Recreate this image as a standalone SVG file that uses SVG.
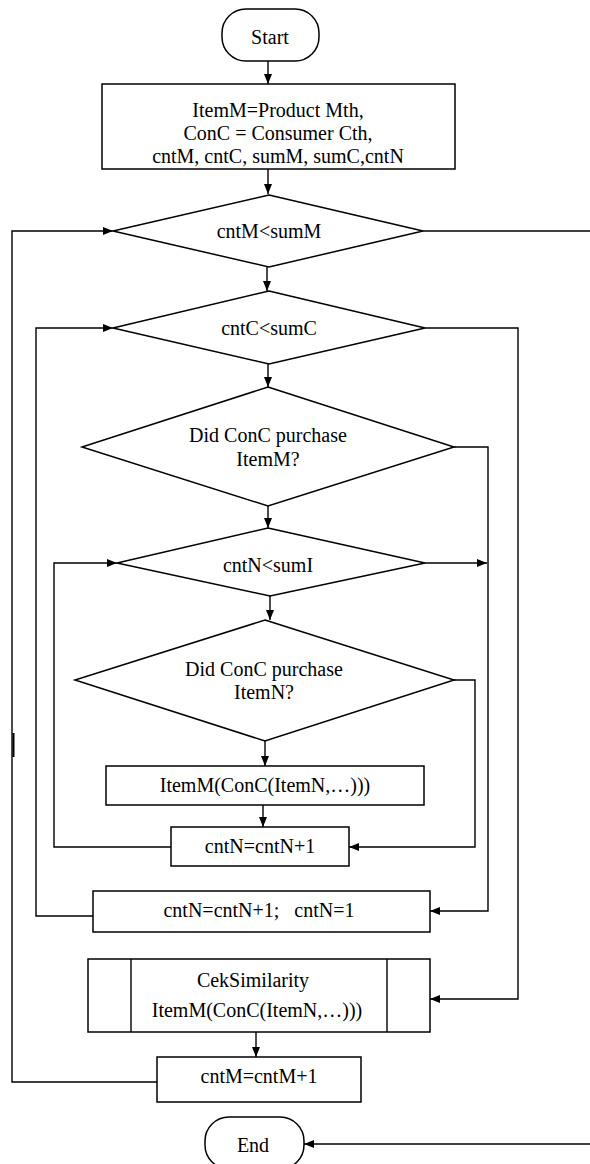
<svg xmlns="http://www.w3.org/2000/svg" width="590" height="1164" viewBox="0 0 590 1164">
<style>
.s{fill:#fff;stroke:#000;stroke-width:1.5}
.c{fill:none;stroke:#000;stroke-width:1.4}
text{font-family:"Liberation Serif","Times New Roman",serif;font-size:20px;fill:#000;text-anchor:middle}
</style>
<defs>
<marker id="a" markerUnits="userSpaceOnUse" markerWidth="10" markerHeight="10" viewBox="0 0 10 10" refX="10" refY="5" orient="auto">
<path d="M0,1 L10,5 L0,9 Z" fill="#000"/>
</marker>
</defs>
<g id="connectors">
<path class="c" d="M268,61 V84" marker-end="url(#a)"/>
<path class="c" d="M268,169 V194" marker-end="url(#a)"/>
<path class="c" d="M267,267 V291" marker-end="url(#a)"/>
<path class="c" d="M268,364 V387" marker-end="url(#a)"/>
<path class="c" d="M268,506 V528" marker-end="url(#a)"/>
<path class="c" d="M270,596 V620" marker-end="url(#a)"/>
<path class="c" d="M265,741 V766" marker-end="url(#a)"/>
<path class="c" d="M263,805 V827" marker-end="url(#a)"/>
<path class="c" d="M256,1032 V1057" marker-end="url(#a)"/>
<path class="c" d="M157,1082 H12 V231 H113" marker-end="url(#a)"/>
<path class="c" d="M423,231 H590"/>
<path class="c" d="M590,1144 H304" marker-end="url(#a)"/>
<path class="c" d="M93,916 H36 V328 H113" marker-end="url(#a)"/>
<path class="c" d="M425,328 H518 V999 H430" marker-end="url(#a)"/>
<path class="c" d="M454,447 H488 V911 H430" marker-end="url(#a)"/>
<path class="c" d="M425,563 H487" marker-end="url(#a)"/>
<path class="c" d="M171,847 H54 V563 H117" marker-end="url(#a)"/>
<path class="c" d="M454,680 H475 V847 H349" marker-end="url(#a)"/>
<path d="M13.5,733 V757" stroke="#000" stroke-width="2"/>
</g>
<g id="start">
<rect class="s" x="222" y="9" width="97" height="52" rx="24" ry="24"/>
<text x="270" y="44">Start</text>
</g>
<g id="init">
<rect class="s" x="102" y="84" width="353" height="85"/>
<text x="278" y="117">ItemM=Product  Mth,</text>
<text x="278" y="140">ConC = Consumer Cth,</text>
<text x="278" y="163">cntM, cntC, sumM, sumC,cntN</text>
</g>
<g id="d1">
<polygon class="s" points="269,195 423,231 269,267 113,231"/>
<text x="269" y="238">cntM&lt;sumM</text>
</g>
<g id="d2">
<polygon class="s" points="269,291 425,328 269,364 113,328"/>
<text x="269" y="335">cntC&lt;sumC</text>
</g>
<g id="d3">
<polygon class="s" points="268,387 454,447 268,506 82,447"/>
<text x="268" y="442">Did ConC  purchase</text>
<text x="268" y="466">ItemM?</text>
</g>
<g id="d4">
<polygon class="s" points="268,528 425,563 270,596 117,563"/>
<text x="268" y="572">cntN&lt;sumI</text>
</g>
<g id="d5">
<polygon class="s" points="265,620 454,680 265,741 75,680"/>
<text x="264" y="676">Did ConC  purchase</text>
<text x="264" y="699">ItemN?</text>
</g>
<g id="p1">
<rect class="s" x="106" y="766" width="318" height="39"/>
<text x="265" y="792">ItemM(ConC(ItemN,…)))</text>
</g>
<g id="p2">
<rect class="s" x="171" y="827" width="178" height="39"/>
<text x="260" y="853">cntN=cntN+1</text>
</g>
<g id="p3">
<rect class="s" x="93" y="891" width="337" height="41"/>
<text x="259" y="917" xml:space="preserve">cntN=cntN+1;   cntN=1</text>
</g>
<g id="sub">
<rect class="s" x="88" y="959" width="342" height="73"/>
<line class="c" x1="131" y1="959" x2="131" y2="1032"/>
<line class="c" x1="387" y1="959" x2="387" y2="1032"/>
<text x="253" y="987">CekSimilarity</text>
<text x="257" y="1017">ItemM(ConC(ItemN,…)))</text>
</g>
<g id="p4">
<rect class="s" x="157" y="1057" width="204" height="45"/>
<text x="259" y="1083">cntM=cntM+1</text>
</g>
<g id="end">
<rect class="s" x="205" y="1117" width="99" height="52" rx="24" ry="24"/>
<text x="253" y="1152">End</text>
</g>
</svg>
